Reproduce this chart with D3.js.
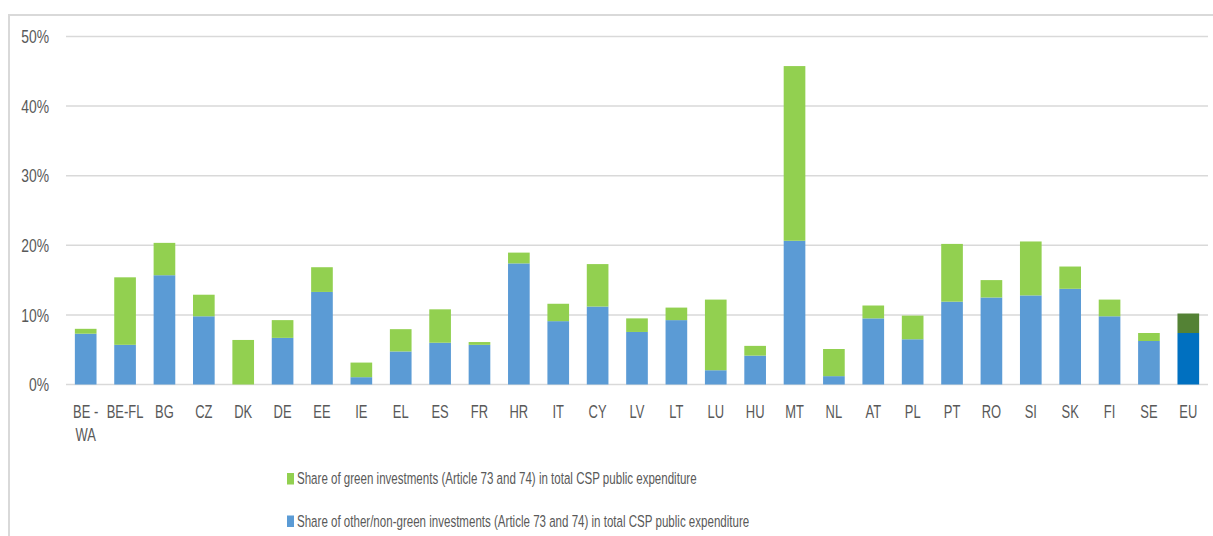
<!DOCTYPE html>
<html>
<head>
<meta charset="utf-8">
<script src="https://cdn.jsdelivr.net/npm/d3@7"></script>
<style>
  body { margin: 0; background: #fff; }
  text { font-family: "Liberation Sans", sans-serif; fill: #595959; }
</style>
</head>
<body>
<svg id="chart" width="1213" height="536"></svg>
<script>
// categories (x axis)
const countries = ["BE - WA", "BE-FL", "BG", "CZ", "DK", "DE", "EE", "IE", "EL", "ES", "FR", "HR", "IT", "CY",
  "LV", "LT", "LU", "HU", "MT", "NL", "AT", "PL", "PT", "RO", "SI", "SK", "FI", "SE", "EU"];

// share of other/non-green investments, %
const otherShare = [7.3, 5.7, 15.7, 9.8, 0, 6.7, 13.3, 1.05, 4.75, 6.0, 5.7, 17.4, 9.1, 11.2,
  7.55, 9.25, 2.05, 4.15, 20.65, 1.2, 9.5, 6.5, 11.9, 12.5, 12.8, 13.75, 9.8, 6.25, 7.4];

// share of green investments, %
const greenShare = [0.7, 9.7, 4.65, 3.1, 6.4, 2.55, 3.55, 2.1, 3.2, 4.8, 0.4, 1.55, 2.5, 6.1,
  1.95, 1.8, 10.15, 1.4, 25.1, 3.9, 1.85, 3.4, 8.3, 2.5, 7.75, 3.2, 2.4, 1.15, 2.8];

const yTicks = [0, 10, 20, 30, 40, 50];

const seriesNames = [
  "Share of green investments (Article 73 and 74) in total CSP public expenditure",
  "Share of other/non-green investments (Article 73 and 74) in total CSP public expenditure"
];

const colors = { other: "#5B9BD5", green: "#92D050", otherEU: "#0070C0", greenEU: "#548235" };

// the original font is a condensed one, so squeeze text horizontally
const squeeze = 0.72;

const svg = d3.select("#chart");

// outer frame (only left and top edges fall inside the picture)
svg.append("path")
  .attr("d", "M9,536 V15 H1213")
  .attr("fill", "none")
  .attr("stroke", "#D9D9D9")
  .attr("stroke-width", 2);

const x = d3.scaleBand().domain(countries).range([66, 1208]).paddingInner(0.45).paddingOuter(0.225);
const y = d3.scaleLinear().domain([0, 50]).range([384.5, 36.5]);

// gridlines
svg.append("g").selectAll("line")
  .data(yTicks)
  .join("line")
  .attr("x1", 66).attr("x2", 1208)
  .attr("y1", d => y(d)).attr("y2", d => y(d))
  .attr("stroke", "#D9D9D9")
  .attr("stroke-width", 1.5);

// y tick labels
svg.append("g").selectAll("g")
  .data(yTicks)
  .join("g")
  .attr("transform", d => `translate(49, ${y(d)}) scale(${squeeze + 0.03}, 1)`)
  .append("text")
  .attr("dy", "0.36em")
  .attr("text-anchor", "end")
  .style("font-size", "18.5px")
  .text(d => d + "%");

const rows = countries.map((c, i) => ({ c, other: otherShare[i], green: greenShare[i] }));

// stacked bars
const bars = svg.append("g");
bars.selectAll("rect.other")
  .data(rows)
  .join("rect")
  .attr("class", "other")
  .attr("x", d => x(d.c))
  .attr("width", x.bandwidth())
  .attr("y", d => y(d.other))
  .attr("height", d => y(0) - y(d.other))
  .attr("fill", d => d.c === "EU" ? colors.otherEU : colors.other);

bars.selectAll("rect.green")
  .data(rows)
  .join("rect")
  .attr("class", "green")
  .attr("x", d => x(d.c))
  .attr("width", x.bandwidth())
  .attr("y", d => y(d.other + d.green))
  .attr("height", d => y(d.other) - y(d.other + d.green))
  .attr("fill", d => d.c === "EU" ? colors.greenEU : colors.green);

// x labels (BE - WA wraps onto two lines)
const xl = svg.append("g").selectAll("g")
  .data(countries)
  .join("g")
  .attr("transform", d => `translate(${x(d) + x.bandwidth() / 2}, 418) scale(${squeeze}, 1)`)
  .append("text")
  .attr("text-anchor", "middle")
  .style("font-size", "18px");
xl.each(function(d) {
  const t = d3.select(this);
  const parts = d === "BE - WA" ? ["BE -", "WA"] : [d];
  parts.forEach((p, k) => {
    t.append("tspan")
      .attr("x", 0)
      .attr("dy", k === 0 ? 0 : 23.5)
      .text(p);
  });
});

// legend
const legend = svg.append("g").selectAll("g")
  .data(seriesNames)
  .join("g")
  .attr("transform", (d, i) => `translate(287, ${473 + i * 42.5})`);
legend.append("rect")
  .attr("width", 7).attr("height", 11.5)
  .attr("fill", (d, i) => i === 0 ? colors.green : colors.other);
legend.append("g")
  .attr("transform", `translate(10, 11) scale(${squeeze - 0.02}, 1)`)
  .append("text")
  .style("font-size", "16.5px")
  .text(d => d);
</script>
</body>
</html>
